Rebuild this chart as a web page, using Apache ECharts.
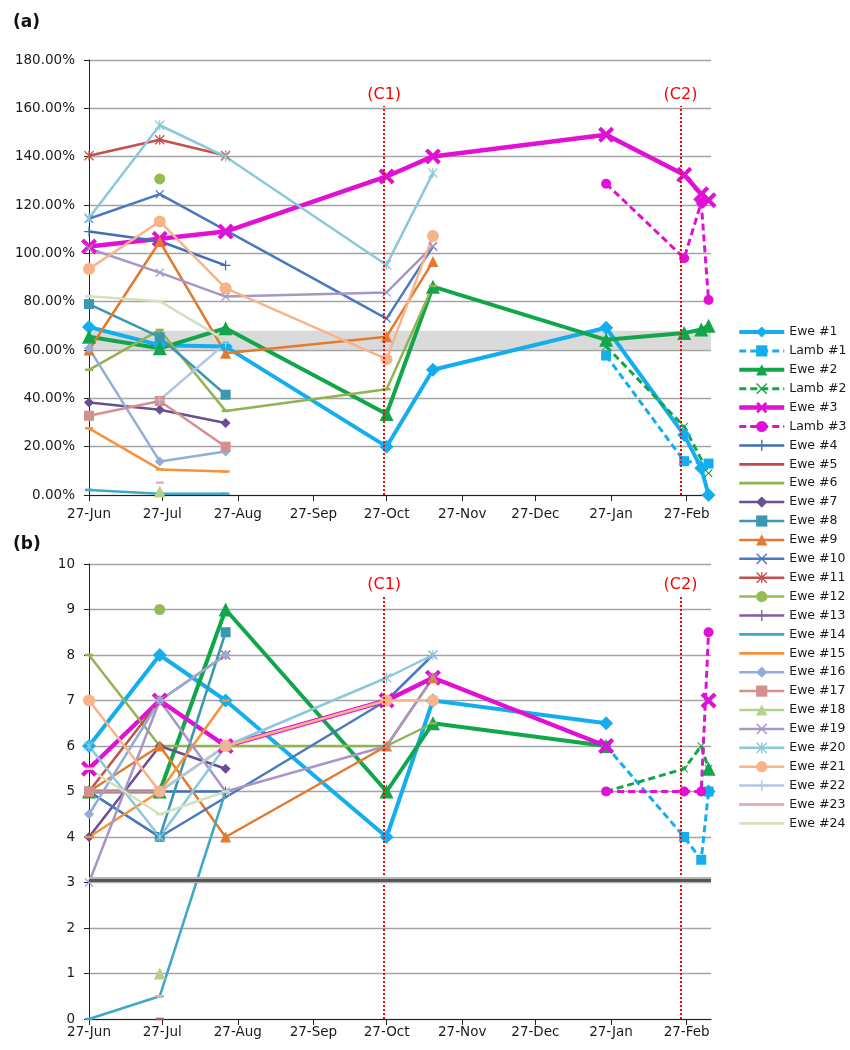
<!DOCTYPE html>
<html><head><meta charset="utf-8">
<script src="https://cdn.jsdelivr.net/npm/echarts@6/dist/echarts.min.js"></script>
<style>html,body{margin:0;padding:0;background:#fff}#chart{width:850px;height:1050px}</style>
</head><body><div id="chart"></div>
<script>
// ---------- DATA ----------
// sampling days, counted from 27-Jun (27-Jun, 26-Jul, 22-Aug, 27-Oct, 15-Nov, 25-Jan, 26-Feb, 5-Mar, 8-Mar)
const sampleDays = [0, 29, 56, 122, 141, 212, 244, 251, 254];
const tickDays   = [0, 30, 61, 92, 122, 153, 183, 214, 245];
const tickLabels = ['27-Jun','27-Jul','27-Aug','27-Sep','27-Oct','27-Nov','27-Dec','27-Jan','27-Feb'];
const eventNames = ['(C1)', '(C2)'];
const eventDays  = [121, 242.5];
const bandA = [60, 68];          // shaded reference band, panel (a), %
const thresholdB = 3.05;         // reference line, panel (b)

const names = ['Ewe #1','Lamb #1','Ewe #2','Lamb #2','Ewe #3','Lamb #3','Ewe #4','Ewe #5','Ewe #6','Ewe #7',
  'Ewe #8','Ewe #9','Ewe #10','Ewe #11','Ewe #12','Ewe #13','Ewe #14','Ewe #15','Ewe #16','Ewe #17',
  'Ewe #18','Ewe #19','Ewe #20','Ewe #21','Ewe #22','Ewe #23','Ewe #24'];

const N = null;
// Panel (a): percentages
const ewe1_a  = [69.5, 62, 61.4, 20, 51.8, 69.2, 24.8, 11.2, 0];
const lamb1_a = [N, N, N, N, N, 57.7, 14, N, 13];
const ewe2_a  = [65.5, 60.7, 69, 33.5, 86.2, 64.2, 67, 68.5, 70];
const lamb2_a = [N, N, N, N, N, 61.5, 28.3, N, 9];
const ewe3_a  = [102.8, 106, 109, 131.8, 140.1, 149.1, 132.5, 124.5, 122];
const lamb3_a = [N, N, N, N, N, 128.8, 98, 121, 80.7];
const ewe4_a  = [109, 105, 95];
const ewe5_a  = [];
const ewe6_a  = [51.8, 68.3, 34.8, 43.8, 86.5];
const ewe7_a  = [38.3, 35.3, 29.8];
const ewe8_a  = [79, 65.3, 41.5];
const ewe9_a  = [60, 104.9, 58.7, 65.5, 96.6];
const ewe10_a = [114.3, 124.5, N, 73, 102.8];
const ewe11_a = [140.4, 147, 140.5];
const ewe12_a = [N, 130.8];
const ewe13_a = [];
const ewe14_a = [2.1, 0.5, 0.5];
const ewe15_a = [27.6, 10.6, 9.7];
const ewe16_a = [60.7, 13.9, 18];
const ewe17_a = [32.8, 38.9, 20];
const ewe18_a = [N, 1.5];
const ewe19_a = [102, 92, 82.1, 83.8, 103];
const ewe20_a = [114.6, 153, 140, 95.2, 133.2];
const ewe21_a = [93.5, 113.2, 85.6, 56.2, 107.2];
const ewe22_a = [N, 39.3, 62.8];
const ewe23_a = [N, 5.1];
const ewe24_a = [82.2, 80.2, 64];

// Panel (b): scores
const ewe1_b  = [6, 8, 7, 4, 7, 6.5, N, N, 5];
const lamb1_b = [N, N, N, N, N, 6, 4, 3.5, 5];
const ewe2_b  = [5, 5, 9, 5, 6.5, 6, N, N, 5.5];
const lamb2_b = [N, N, N, N, N, 5, 5.5, 6, 5.5];
const ewe3_b  = [5.5, 7, 6, 7, 7.5, 6, N, N, 7];
const lamb3_b = [N, N, N, N, N, 5, 5, 5, 8.5];
const ewe4_b  = [5, 5, 5];
const ewe5_b  = [N, 0];
const ewe6_b  = [8, 6, 6, 6, 6.5];
const ewe7_b  = [4, 6, 5.5];
const ewe8_b  = [5, 4, 8.5];
const ewe9_b  = [5, 6, 4, 6, 7.5];
const ewe10_b = [5, 4, N, 7, 8];
const ewe11_b = [5, 7, 8];
const ewe12_b = [N, 9];
const ewe13_b = [];
const ewe14_b = [0, 0.5, 5];
const ewe15_b = [4, 5, 7];
const ewe16_b = [4.5, 7, 8];
const ewe17_b = [5, 5, 6];
const ewe18_b = [N, 1];
const ewe19_b = [3, 7, 5, 6, 7.5];
const ewe20_b = [6, 4, 6, 7.5, 8];
const ewe21_b = [7, 5, 6, 7, 7];
const ewe22_b = [N, 5, 6];
const ewe23_b = [N, 0.5];
const ewe24_b = [5.5, 4.5, 5];

const dataA = [ewe1_a, lamb1_a, ewe2_a, lamb2_a, ewe3_a, lamb3_a, ewe4_a, ewe5_a, ewe6_a, ewe7_a, ewe8_a, ewe9_a,
  ewe10_a, ewe11_a, ewe12_a, ewe13_a, ewe14_a, ewe15_a, ewe16_a, ewe17_a, ewe18_a, ewe19_a, ewe20_a, ewe21_a,
  ewe22_a, ewe23_a, ewe24_a];
const dataB = [ewe1_b, lamb1_b, ewe2_b, lamb2_b, ewe3_b, lamb3_b, ewe4_b, ewe5_b, ewe6_b, ewe7_b, ewe8_b, ewe9_b,
  ewe10_b, ewe11_b, ewe12_b, ewe13_b, ewe14_b, ewe15_b, ewe16_b, ewe17_b, ewe18_b, ewe19_b, ewe20_b, ewe21_b,
  ewe22_b, ewe23_b, ewe24_b];

// ---------- STYLE ----------
const FONT = 'DejaVu Sans';
const SYM = {
  x: 'path://M0,0.9L0.9,0L5,4.1L9.1,0L10,0.9L5.9,5L10,9.1L9.1,10L5,5.9L0.9,10L0,9.1L4.1,5Z',
  xBold: 'path://M0,1.8L1.8,0L5,3.2L8.2,0L10,1.8L6.8,5L10,8.2L8.2,10L5,6.8L1.8,10L0,8.2L3.2,5Z',
  star: 'path://M0,0.9L0.9,0L5,4.1L9.1,0L10,0.9L5.9,5L10,9.1L9.1,10L5,5.9L0.9,10L0,9.1L4.1,5Z M4.4,0L5.6,0L5.6,10L4.4,10Z',
  plus: 'path://M4.4,0L5.6,0L5.6,4.4L10,4.4L10,5.6L5.6,5.6L5.6,10L4.4,10L4.4,5.6L0,5.6L0,4.4L4.4,4.4Z',
  dash: 'path://M0,0L10,0L10,3L0,3Z'
};
const barIcon = 'path://M0,0L0.01,0Z M0,5.6L45,5.6L45,8.4L0,8.4Z M0,14L0.01,14Z';
const DASH = [7, 4];
const styles = [
  {c:'#14AEEF', w:4,   sym:'diamond',  s:14, gap:true},
  {c:'#14AEEF', w:3,   sym:'rect',     s:10, type:DASH},
  {c:'#12A64A', w:4,   sym:'triangle', s:14, gap:true},
  {c:'#12A64A', w:3,   sym:SYM.x,      s:8,  type:DASH},
  {c:'#E011D5', w:4.5, sym:SYM.xBold,  s:16, gap:true},
  {c:'#E011D5', w:3,   sym:'circle',   s:10, type:DASH},
  {c:'#3F6FB6', w:2.5, sym:SYM.plus,   s:10},
  {c:'#BE4B48', w:2.5, sym:SYM.dash,   s:[8,2.5]},
  {c:'#93B251', w:2.5, sym:SYM.dash,   s:[8,2.5]},
  {c:'#6B4E92', w:2.5, sym:'diamond',  s:10},
  {c:'#3B98B0', w:2.5, sym:'rect',     s:10},
  {c:'#E27A2F', w:2.5, sym:'triangle', s:11},
  {c:'#4B79C0', w:2.5, sym:SYM.x,      s:9},
  {c:'#C44F4B', w:2.5, sym:SYM.star,   s:10},
  {c:'#94BC52', w:2.5, sym:'circle',   s:11},
  {c:'#7D60A6', w:2.5, sym:SYM.plus,   s:9},
  {c:'#3FA8C6', w:2.5, sym:SYM.dash,   s:[8,2.5]},
  {c:'#F7923B', w:2.5, sym:SYM.dash,   s:[8,2.5]},
  {c:'#93ADD9', w:2.5, sym:'diamond',  s:10},
  {c:'#D58F8D', w:2.5, sym:'rect',     s:10},
  {c:'#B5D28C', w:2.5, sym:'triangle', s:12},
  {c:'#A796C6', w:2.5, sym:SYM.x,      s:9},
  {c:'#8CC8DB', w:2.5, sym:SYM.star,   s:10},
  {c:'#F8B389', w:2.5, sym:'circle',   s:12},
  {c:'#B2C6E5', w:2.5, sym:SYM.plus,   s:9},
  {c:'#E3B3B2', w:2.5, sym:SYM.dash,   s:[8,2.5]},
  {c:'#D3E2BC', w:2.5, sym:SYM.dash,   s:[8,2.5]}
];

function toPairs(vals, keepGaps) {
  const out = [];
  sampleDays.forEach((d, i) => {
    const v = vals[i];
    if (v === undefined) return;
    if (v === null) { if (keepGaps) out.push([d, '-']); return; }
    out.push([d, v]);
  });
  return out;
}

const series = [];
[dataA, dataB].forEach((set, panel) => {
  set.forEach((vals, i) => {
    const st = styles[i];
    series.push({
      name: names[i], type: 'line', xAxisIndex: panel, yAxisIndex: panel,
      data: toPairs(vals, !!st.gap), connectNulls: !st.gap,
      symbol: st.sym, symbolSize: st.s, showSymbol: true, showAllSymbol: true,
      lineStyle: {color: st.c, width: st.w, type: st.type || 'solid'},
      itemStyle: {color: st.c},
      emphasis: {disabled: true}, animation: false, silent: true
    });
  });
});

const eventLine = (top) => ({
  silent: true, symbol: ['none','none'], animation: false,
  lineStyle: {color: '#FF0000', width: 2, type: [2, 2]},
  label: {show: true, position: 'end', formatter: '{b}', color: '#FF0000', fontSize: 16, fontFamily: FONT, distance: 3},
  emphasis: {disabled: true},
  data: eventDays.map((d, k) => [{coord: [d, 0], name: eventNames[k]}, {coord: [d, top]}])
});

series.push({type:'line', xAxisIndex:0, yAxisIndex:0, data:[], z:1, silent:true, animation:false, markLine: eventLine(161)});
series.push({type:'line', xAxisIndex:1, yAxisIndex:1, data:[], z:1, silent:true, animation:false, markLine: eventLine(9.3)});
series.push({type:'line', xAxisIndex:0, yAxisIndex:0, data:[], z:6, silent:true, animation:false,
  markArea: {silent:true, itemStyle:{color:'rgba(196,196,196,0.62)'}, emphasis:{disabled:true},
    data: [[{yAxis: bandA[0]}, {yAxis: bandA[1]}]]}});
series.push({type:'line', xAxisIndex:1, yAxisIndex:1, data:[], z:6, silent:true, animation:false,
  markLine: {silent:true, symbol:['none','none'], animation:false, label:{show:false}, emphasis:{disabled:true},
    data: [{yAxis: thresholdB, lineStyle:{color:'#B5B5B5', width:6, type:'solid'}},
           {yAxis: thresholdB, lineStyle:{color:'#555555', width:3, type:'solid'}}]}});

const axisText = {fontFamily: FONT, fontSize: 13.5, color: '#1a1a1a'};
const xAxisCfg = (idx, margin) => ({
  type: 'value', gridIndex: idx, min: 0, max: 255,
  axisLine: {show: true, onZero: false, lineStyle: {color: '#222', width: 1}},
  axisTick: {show: true, customValues: tickDays, length: 6, lineStyle: {color: '#222'}},
  axisLabel: Object.assign({customValues: tickDays, margin: margin,
    formatter: (v) => tickLabels[tickDays.indexOf(v)] || ''}, axisText),
  splitLine: {show: false}
});
const yAxisCfg = (idx, max, interval, fmt) => ({
  type: 'value', gridIndex: idx, min: 0, max: max, interval: interval,
  axisLine: {show: true, lineStyle: {color: '#222', width: 1}},
  axisTick: {show: true, length: 5, lineStyle: {color: '#222'}},
  axisLabel: Object.assign({margin: 14, formatter: fmt}, axisText),
  splitLine: {show: true, lineStyle: {color: '#A3A3A3', width: 1.4}}
});

const legendData = names.map((n, i) => {
  const st = styles[i];
  if (st.sym === SYM.dash) return {name: n, icon: barIcon};
  return {name: n, lineStyle: {width: st.w, color: st.c, type: st.type || 'solid'}, itemStyle: {color: st.c}};
});

const option = {
  backgroundColor: '#ffffff',
  animation: false,
  title: [
    {text: '(a)', left: 8, top: 9, textStyle: {fontFamily: FONT, fontSize: 17, fontWeight: 'bold', color: '#111'}},
    {text: '(b)', left: 8, top: 531, textStyle: {fontFamily: FONT, fontSize: 17, fontWeight: 'bold', color: '#111'}}
  ],
  legend: {
    data: legendData, orient: 'vertical', left: 732, top: 320,
    itemWidth: 45, itemHeight: 14, itemGap: 4.9, selectedMode: false,
    textStyle: {fontFamily: FONT, fontSize: 12.5, color: '#1a1a1a', lineHeight: 14}
  },
  grid: [
    {left: 89, top: 60, width: 622, height: 435, containLabel: false},
    {left: 89, top: 564, width: 622, height: 455, containLabel: false}
  ],
  xAxis: [xAxisCfg(0, 12), xAxisCfg(1, 6)],
  yAxis: [
    yAxisCfg(0, 180, 20, (v) => v.toFixed(2) + '%'),
    yAxisCfg(1, 10, 1, (v) => String(v))
  ],
  series: series
};

const chart = echarts.init(document.getElementById('chart'), null, {renderer: 'canvas'});
chart.setOption(option);
</script></body></html>
